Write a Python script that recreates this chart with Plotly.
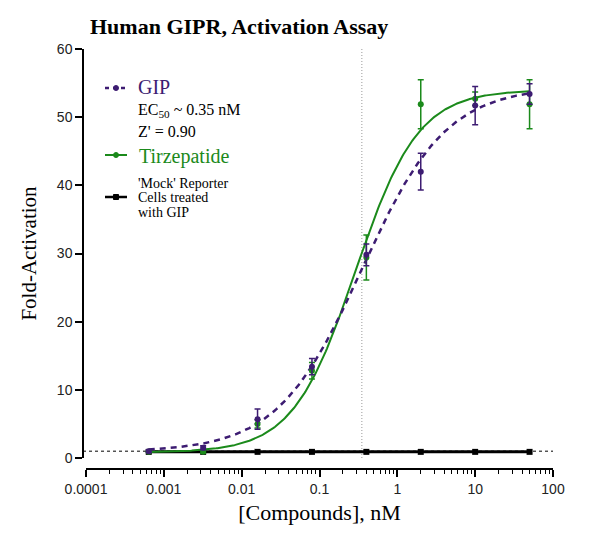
import numpy as np
import plotly.graph_objects as go

# ---- data ----
conc_nM = [0.00064, 0.0032, 0.016, 0.08, 0.4, 2, 10, 50]

gip_mean = [1.0, 1.5, 5.7, 13.4, 29.8, 42.0, 51.7, 53.4]
gip_err = [0.2, 0.3, 1.5, 1.2, 1.6, 2.7, 2.8, 1.5]

tirz_mean = [0.9, 0.9, 5.0, 12.8, 29.4, 51.9, 52.7, 51.9]
tirz_err = [0.1, 0.2, 0.6, 1.2, 3.3, 3.6, 1.0, 3.6]

mock_mean = [0.9, 0.9, 0.9, 0.9, 0.9, 0.9, 0.9, 0.9]

# 4-parameter logistic fit parameters (as shown by fitted curves)
gip_fit = dict(bottom=0.9, top=54.5, ec50=0.35, hill=0.8)
tirz_fit = dict(bottom=0.8, top=54.0, ec50=0.29, hill=1.08)

ec50_line = 0.35
baseline = 1.0

x_tickvals = [1e-4, 1e-3, 1e-2, 1e-1, 1, 10, 100]
x_ticktext = ["0.0001", "0.001", "0.01", "0.1", "1", "10", "100"]
y_tickvals = [0, 10, 20, 30, 40, 50, 60]

PURPLE = "#3d1c72"
GREEN = "#1b8a1b"
BLACK = "#000000"
SERIF = "Liberation Serif"
SANS = "Liberation Sans"


def four_pl(x, p):
    x = np.asarray(x, dtype=float)
    return p["bottom"] + (p["top"] - p["bottom"]) / (1 + (p["ec50"] / x) ** p["hill"])


xfit = np.logspace(np.log10(conc_nM[0]), np.log10(conc_nM[-1]), 300)

fig = go.Figure()

# baseline dotted line at y = 1
fig.add_shape(type="line", xref="paper", yref="y", x0=0, x1=1, y0=baseline, y1=baseline,
              line=dict(color=BLACK, width=1, dash="dot"), layer="below")
# EC50 vertical dotted line
fig.add_shape(type="line", xref="x", yref="y", x0=ec50_line, x1=ec50_line, y0=0, y1=60,
              line=dict(color="#9a9a9a", width=1, dash="1px,2px"), layer="below")

# mock
fig.add_trace(go.Scatter(x=conc_nM, y=mock_mean, mode="lines+markers",
                         line=dict(color=BLACK, width=3),
                         marker=dict(symbol="square", size=6, color=BLACK),
                         showlegend=False))

# fitted curves
fig.add_trace(go.Scatter(x=xfit, y=four_pl(xfit, tirz_fit), mode="lines",
                         line=dict(color=GREEN, width=2), showlegend=False))
fig.add_trace(go.Scatter(x=xfit, y=four_pl(xfit, gip_fit), mode="lines",
                         line=dict(color=PURPLE, width=2.5, dash="6px,5px"), showlegend=False))

# data points with error bars
fig.add_trace(go.Scatter(x=conc_nM, y=tirz_mean, mode="markers",
                         marker=dict(symbol="circle", size=6, color=GREEN),
                         error_y=dict(type="data", array=tirz_err, color=GREEN, thickness=1.5, width=3),
                         showlegend=False))
fig.add_trace(go.Scatter(x=conc_nM, y=gip_mean, mode="markers",
                         marker=dict(symbol="circle", size=6, color=PURPLE),
                         error_y=dict(type="data", array=gip_err, color=PURPLE, thickness=1.5, width=3),
                         showlegend=False))

# ---- layout geometry (pixels) ----
W, H = 600, 535
L, R, T, B = 83, 47, 49, 66
PW, PH = W - L - R, H - T - B


def px(xp):
    return (xp - L) / PW


def py(yp):
    return (H - B - yp) / PH


minor_vals = [m * 10.0 ** e for e in range(-4, 2) for m in range(2, 10)]

fig.update_layout(
    width=W, height=H,
    margin=dict(l=L, r=R, t=T, b=B),
    paper_bgcolor="white", plot_bgcolor="white",
    showlegend=False,
    xaxis=dict(
        type="log", range=[-4, 2], domain=[px(86), 1], anchor="free", position=0,
        showline=True, linecolor=BLACK, linewidth=1.5, showgrid=False, zeroline=False,
        ticks="outside", ticklen=7, tickwidth=1.5, tickcolor=BLACK,
        tickvals=x_tickvals, ticktext=x_ticktext,
        tickfont=dict(family=SANS, size=14, color="#222222"),
        minor=dict(tickvals=minor_vals, ticks="outside", ticklen=4, tickwidth=1, tickcolor=BLACK, showgrid=False),
        title=dict(text="[Compounds], nM", font=dict(family=SERIF, size=22, color=BLACK), standoff=8),
    ),
    yaxis=dict(
        range=[0, 60], domain=[py(458), 1], anchor="free", position=0,
        showline=True, linecolor=BLACK, linewidth=1.5, showgrid=False, zeroline=False,
        ticks="outside", ticklen=7, tickwidth=1.5, tickcolor=BLACK,
        tickvals=y_tickvals,
        tickfont=dict(family=SANS, size=14, color="#222222"),
        title=dict(text="Fold-Activation", font=dict(family=SERIF, size=21, color=BLACK), standoff=14),
    ),
)

annotations = [
    dict(text="<b>Human GIPR, Activation Assay</b>", x=px(88), y=py(27), xanchor="left", yanchor="middle",
         font=dict(family=SERIF, size=22, color=BLACK)),
    dict(text="GIP", x=px(136), y=py(87), xanchor="left", yanchor="middle",
         font=dict(family=SERIF, size=20, color=PURPLE)),
    dict(text="EC<sub>50</sub> ~ 0.35 nM", x=px(136), y=py(110), xanchor="left", yanchor="middle",
         font=dict(family=SERIF, size=16, color=BLACK)),
    dict(text="Z' = 0.90", x=px(136), y=py(131), xanchor="left", yanchor="middle",
         font=dict(family=SERIF, size=16, color=BLACK)),
    dict(text="Tirzepatide", x=px(137), y=py(156), xanchor="left", yanchor="middle",
         font=dict(family=SERIF, size=20, color=GREEN)),
    dict(text="'Mock' Reporter", x=px(136), y=py(183), xanchor="left", yanchor="middle",
         font=dict(family=SERIF, size=14, color=BLACK)),
    dict(text="Cells treated", x=px(136), y=py(198), xanchor="left", yanchor="middle",
         font=dict(family=SERIF, size=14, color=BLACK)),
    dict(text="with GIP", x=px(136), y=py(213), xanchor="left", yanchor="middle",
         font=dict(family=SERIF, size=14, color=BLACK)),
]
for a in annotations:
    a.update(xref="paper", yref="paper", showarrow=False)
fig.update_layout(annotations=annotations)

# legend keys (decorative)
keys = [
    (88, PURPLE, "4px,4px", 2.5, "circle"),
    (155, GREEN, "solid", 2, "circle"),
    (197, BLACK, "solid", 2.5, "square"),
]
for yk, col, dash, w, sym in keys:
    fig.add_shape(type="line", xref="paper", yref="paper", x0=px(105), x1=px(127), y0=py(yk), y1=py(yk),
                  line=dict(color=col, width=w, dash=dash))
    r = 2.5 / PW
    ry = 2.5 / PH
    fig.add_shape(type="circle" if sym == "circle" else "rect", xref="paper", yref="paper",
                  x0=px(116) - r, x1=px(116) + r, y0=py(yk) - ry, y1=py(yk) + ry,
                  line=dict(color=col, width=1), fillcolor=col)

fig.write_html("out.html")
